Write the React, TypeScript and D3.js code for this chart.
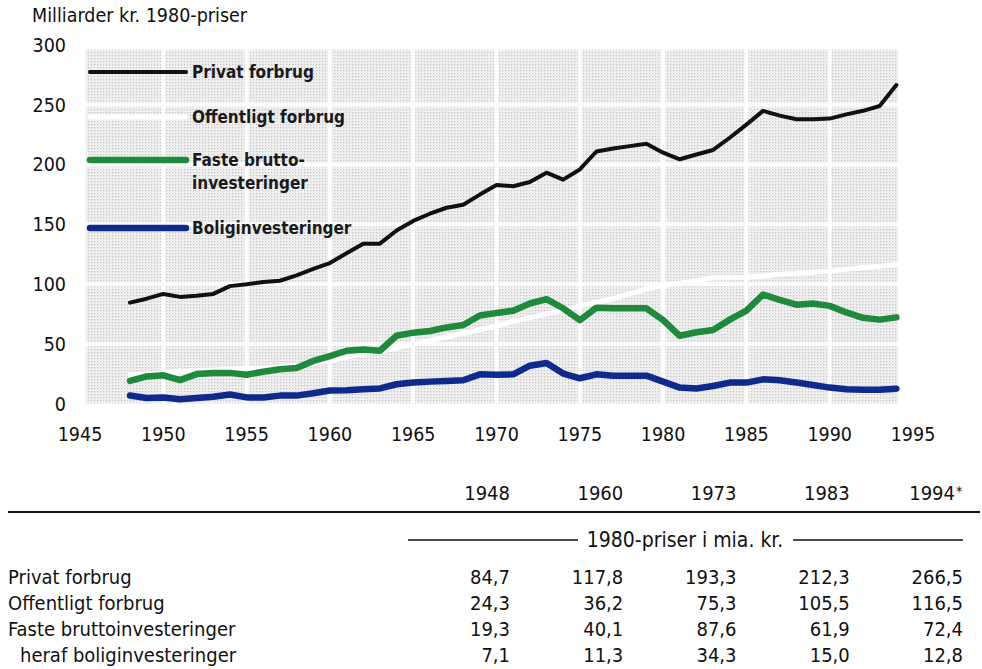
import * as d3 from 'd3';

// Series, one value per year 1948-1994 (milliarder kr., 1980-priser)
const years = d3.range(1948, 1995);

const privatForbrug = [
  84.7, 88, 92, 89.5, 90.5, 92, 98.5, 100, 102, 103, 107.5, 113, 117.8, 126, 134, 134,
  145, 153, 159, 164, 166.5, 175, 183, 182, 185.5, 193.3, 187.5, 196, 211, 213.5, 215.5,
  217.5, 210, 204.5, 208.5, 212.3, 222.5, 233.5, 245, 241, 238, 238, 238.5, 242, 245, 249, 266.5,
];

const offentligtForbrug = [
  24.3, 25, 26, 27, 28, 28.5, 29, 29.5, 30, 31, 32, 34, 36.2, 39, 42, 44,
  47, 50, 53, 56, 59, 62, 65, 69, 72, 75.3, 78, 82, 85, 88, 92,
  96, 99, 101, 103, 105.5, 105.5, 106, 107, 108.5, 109, 110, 111, 112.5, 114, 115, 116.5,
];

const fasteInvesteringer = [
  19.3, 23, 24, 20, 25, 26, 26, 24.5, 27, 29, 30, 36, 40.1, 44.5, 45.5, 44.5,
  57, 59.6, 61, 64, 66, 74, 76, 78, 84, 87.6, 80, 70, 80.5, 80, 80,
  80, 70, 57, 60, 61.9, 70.5, 78, 91.5, 87, 83, 84, 82, 76.5, 72, 70.5, 72.4,
];

const boligInvesteringer = [
  7.1, 5, 5.5, 4, 5, 6, 8, 5.5, 5.5, 7, 7, 9, 11.3, 11.5, 12.3, 13,
  16.5, 18, 18.7, 19.3, 19.8, 24.8, 24.5, 24.8, 32, 34.3, 25.4, 21.5, 24.8, 23.7, 23.7,
  23.7, 18.7, 13.7, 13, 15, 17.9, 17.9, 20.6, 19.8, 17.9, 15.9, 13.7, 12.3, 12, 12, 12.8,
];

const xTicks = [1945, 1950, 1955, 1960, 1965, 1970, 1975, 1980, 1985, 1990, 1995];
const yTicks = [0, 50, 100, 150, 200, 250, 300];

// Table
const tableYears = ['1948', '1960', '1973', '1983', '1994'];
const tableRows = [
  'Privat forbrug',
  'Offentligt forbrug',
  'Faste bruttoinvesteringer',
  'heraf boliginvesteringer',
];
const tablePrivat = ['84,7', '117,8', '193,3', '212,3', '266,5'];
const tableOffentligt = ['24,3', '36,2', '75,3', '105,5', '116,5'];
const tableFaste = ['19,3', '40,1', '87,6', '61,9', '72,4'];
const tableBolig = ['7,1', '11,3', '34,3', '15,0', '12,8'];

const series = [
  { name: 'Privat forbrug', values: privatForbrug, color: '#111111', width: 4 },
  { name: 'Offentligt forbrug', values: offentligtForbrug, color: '#ffffff', width: 5 },
  { name: 'Faste bruttoinvesteringer', values: fasteInvesteringer, color: '#1e8a3c', width: 6.5 },
  { name: 'Boliginvesteringer', values: boligInvesteringer, color: '#0f2a8c', width: 6.5 },
];

const FONT = '"DejaVu Sans Condensed", "Liberation Sans Narrow", sans-serif';

export default function App() {
  const W = 982;
  const H = 669;

  const x = d3.scaleLinear().domain([1945, 1995]).range([80, 913]);
  const y = d3.scaleLinear().domain([0, 300]).range([404, 45]);

  const line = d3
    .line<number>()
    .x((_, i) => x(years[i]))
    .y((d) => y(d))
    .curve(d3.curveLinear);

  // plot background extent
  const bgLeft = x(1945.35);
  const bgRight = x(1994.1);
  const bgTop = y(296);
  const bgBottom = y(0.5);

  const gridYears = xTicks.filter((t) => t > 1945 && t < 1995);
  const gridValues = yTicks.filter((t) => t > 0 && t < 300);

  // legend
  const legendX0 = 90;
  const legendX1 = 186;
  const legend = [
    { s: series[0], ly: 72, lines: ['Privat forbrug'] },
    { s: series[1], ly: 117, lines: ['Offentligt forbrug'] },
    { s: series[2], ly: 160, lines: ['Faste brutto-', 'investeringer'] },
    { s: series[3], ly: 228, lines: ['Boliginvesteringer'] },
  ];

  const col = d3.scalePoint<string>().domain(tableYears).range([510, 963]);
  const tableValues = [tablePrivat, tableOffentligt, tableFaste, tableBolig];
  const rowY = d3.scalePoint<number>().domain([0, 1, 2, 3]).range([584, 662]);

  return (
    <svg width={W} height={H} style={{ position: 'absolute', left: 0, top: 0, background: '#fff' }}>
      <defs>
        <pattern id="dots" width="3" height="3" patternUnits="userSpaceOnUse">
          <rect width="3" height="3" fill="#efefef" />
          <rect x="1" y="1" width="1.2" height="1.2" fill="#c6c6c6" />
        </pattern>
      </defs>

      <text x={32} y={22} fontFamily={FONT} fontSize={19.5} fill="#111">
        Milliarder kr. 1980-priser
      </text>

      {/* plot background */}
      <rect x={bgLeft} y={bgTop} width={bgRight - bgLeft} height={bgBottom - bgTop} fill="url(#dots)" />

      {/* grid */}
      {gridYears.map((t) => (
        <line key={'gx' + t} x1={x(t)} x2={x(t)} y1={bgTop} y2={bgBottom} stroke="#fdfdfd" strokeWidth={4} />
      ))}
      {gridValues.map((t) => (
        <line key={'gy' + t} x1={bgLeft} x2={bgRight} y1={y(t)} y2={y(t)} stroke="#fdfdfd" strokeWidth={4} />
      ))}

      {/* y tick labels */}
      {yTicks.map((t) => (
        <text
          key={'yl' + t}
          x={66}
          y={y(t)}
          dy="0.35em"
          textAnchor="end"
          fontFamily={FONT}
          fontSize={19.5}
          fill="#111"
        >
          {t}
        </text>
      ))}

      {/* x tick labels */}
      {xTicks.map((t) => (
        <text
          key={'xl' + t}
          x={x(t)}
          y={441}
          textAnchor="middle"
          fontFamily={FONT}
          fontSize={19.5}
          fill="#111"
        >
          {t}
        </text>
      ))}

      {/* lines */}
      {series.map((s) => (
        <path
          key={s.name}
          d={line(s.values) || ''}
          fill="none"
          stroke={s.color}
          strokeWidth={s.width}
          strokeLinejoin="round"
          strokeLinecap="round"
        />
      ))}

      {/* legend */}
      {legend.map((l) => (
        <g key={l.s.name}>
          <line
            x1={legendX0}
            x2={legendX1}
            y1={l.ly}
            y2={l.ly}
            stroke={l.s.color}
            strokeWidth={l.s.width}
            strokeLinecap="round"
          />
          {l.lines.map((txt, i) => (
            <text
              key={txt}
              x={legendX1 + 6}
              y={l.ly + 6 + i * 23}
              fontFamily={FONT}
              fontWeight="bold"
              fontSize={17}
              fill="#1a1a1a"
            >
              {txt}
            </text>
          ))}
        </g>
      ))}

      {/* table */}
      {tableYears.map((yr, j) => (
        <text
          key={'th' + yr}
          x={col(yr)! - (j === 4 ? 8 : 0)}
          y={500}
          textAnchor="end"
          fontFamily={FONT}
          fontSize={20}
          fill="#111"
        >
          {yr}
        </text>
      ))}
      <text x={col('1994')! - 7} y={496} fontFamily={FONT} fontSize={14} fill="#111">
        *
      </text>
      <line x1={8} x2={980} y1={512} y2={512} stroke="#111" strokeWidth={2.2} />
      <line x1={408} x2={578} y1={540} y2={540} stroke="#111" strokeWidth={1.5} />
      <text x={685} y={547} textAnchor="middle" fontFamily={FONT} fontSize={21} fill="#111">
        1980-priser i mia. kr.
      </text>
      <line x1={793} x2={963} y1={540} y2={540} stroke="#111" strokeWidth={1.5} />

      {tableRows.map((r, i) => (
        <g key={r}>
          <text x={i === 3 ? 20 : 8} y={rowY(i)} fontFamily={FONT} fontSize={20} fill="#111">
            {r}
          </text>
          {tableValues[i].map((v, j) => (
            <text
              key={j}
              x={col(tableYears[j])}
              y={rowY(i)}
              textAnchor="end"
              fontFamily={FONT}
              fontSize={20}
              fill="#111"
            >
              {v}
            </text>
          ))}
        </g>
      ))}
    </svg>
  );
}
